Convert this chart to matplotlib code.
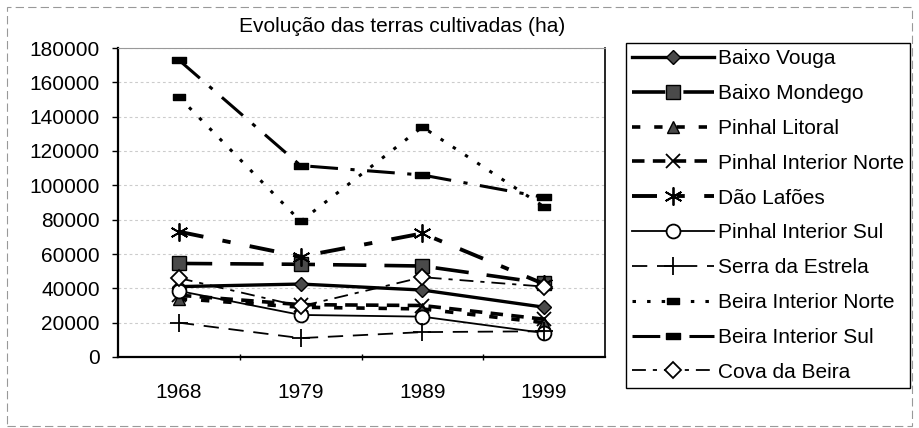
import matplotlib
matplotlib.use('Agg')
import matplotlib.pyplot as plt
from matplotlib.patches import Rectangle
from matplotlib.path import Path
from matplotlib.ticker import FixedLocator

anos = ['1968', '1979', '1989', '1999']
baixo_vouga = [41000, 42500, 39000, 29000]
baixo_mondego = [54500, 54000, 53000, 43000]
pinhal_litoral = [34000, 29000, 28000, 20000]
pinhal_interior_norte = [36000, 30500, 30000, 22000]
dao_lafoes = [73000, 58500, 72000, 42500]
pinhal_interior_sul = [38500, 24500, 23500, 14000]
serra_estrela = [20000, 11000, 14500, 15000]
beira_interior_norte = [151500, 79000, 134000, 87500]
beira_interior_sul = [173000, 111500, 106000, 93000]
cova_beira = [46000, 29500, 46500, 41000]

plt.rcParams['font.family'] = ['Liberation Sans', 'DejaVu Sans']
plt.rcParams['lines.scale_dashes'] = False

barra = Path([(-1, -0.45), (1, -0.45), (1, 0.45), (-1, 0.45), (-1, -0.45)],
             [Path.MOVETO, Path.LINETO, Path.LINETO, Path.LINETO, Path.CLOSEPOLY])

fig = plt.figure(figsize=(9.19, 4.28), dpi=100)
ax = fig.add_axes([118/919, 1 - 357/428, 487/919, 309/428])

x = range(len(anos))
cinza = '#4a4a4a'

ax.plot(x, baixo_vouga, color='k', lw=2.4, ls='-', marker='D', ms=7,
        mfc=cinza, mec='k', label='Baixo Vouga')
ax.plot(x, baixo_mondego, color='k', lw=2.6, ls=(0, (24, 13)), marker='s', ms=10,
        mfc=cinza, mec='k', label='Baixo Mondego')
ax.plot(x, pinhal_litoral, color='k', lw=2.6, ls=(0, (6, 10)), marker='^', ms=9,
        mfc=cinza, mec='k', label='Pinhal Litoral')
ax.plot(x, pinhal_interior_norte, color='k', lw=2.6, ls=(0, (9, 6)), marker='x', ms=10,
        mew=1.3, mec='k', label='Pinhal Interior Norte')
ax.plot(x, dao_lafoes, color='k', lw=2.8, ls=(0, (18, 14, 6, 14)), marker=(6, 2, 0), ms=13,
        mew=1.3, mec='k', label='Dão Lafões')
ax.plot(x, pinhal_interior_sul, color='k', lw=1.3, ls='-', marker='o', ms=10,
        mfc='white', mec='k', mew=1.3, label='Pinhal Interior Sul')
ax.plot(x, serra_estrela, color='k', lw=1.3, ls=(0, (11, 7)), marker='+', ms=13,
        mew=1.3, mec='k', label='Serra da Estrela')
ax.plot(x, beira_interior_norte, color='k', lw=2.2, ls=(0, (2.5, 8)), marker=barra, ms=9,
        mfc='k', mec='k', label='Beira Interior Norte')
ax.plot(x, beira_interior_sul, color='k', lw=2.2, ls=(0, (20, 9, 3, 9)), marker=barra, ms=10,
        mfc='k', mec='k', label='Beira Interior Sul')
ax.plot(x, cova_beira, color='k', lw=1.3, ls=(0, (10, 5, 3, 5)), marker='D', ms=8,
        mfc='white', mec='k', mew=1.3, label='Cova da Beira')

ax.set_xlim(-0.5, 3.5)
ax.set_ylim(0, 180000)
ax.set_yticks(range(0, 180001, 20000))
ax.set_xticks(list(x))
ax.set_xticklabels(anos)
ax.xaxis.set_minor_locator(FixedLocator([0.5, 1.5, 2.5]))
ax.tick_params(axis='y', labelsize=15, length=4, pad=9, width=1)
ax.tick_params(axis='x', which='major', labelsize=15, length=0, pad=19)
ax.tick_params(axis='x', which='minor', length=4, width=1, direction='inout')
ax.grid(axis='y', color='#cccccc', lw=0.8, ls=(0, (2, 2)))
ax.set_axisbelow(True)
for lado in ['left', 'bottom']:
    ax.spines[lado].set_linewidth(1.6)
ax.spines['top'].set_color('#999999')
ax.spines['right'].set_linewidth(1.2)

fig.text(402/919, 1 - 27/428, 'Evolução das terras cultivadas (ha)', ha='center', va='center',
         fontsize=15)

leg = ax.legend(loc='upper left', bbox_to_anchor=(626/919, 1 - 43/428),
                bbox_transform=fig.transFigure, borderaxespad=0, fontsize=15,
                handlelength=3.9, handletextpad=0.2, labelspacing=0.76, borderpad=0.3,
                numpoints=1, fancybox=False, framealpha=1, edgecolor='k')
leg.get_frame().set_linewidth(1.0)

fig.patches.append(Rectangle((7/919, 2/428), 905/919, 419/428, transform=fig.transFigure,
                             fill=False, ec='#999999', lw=0.8, ls=(0, (6, 3))))

fig.savefig('out.png', dpi=100)
